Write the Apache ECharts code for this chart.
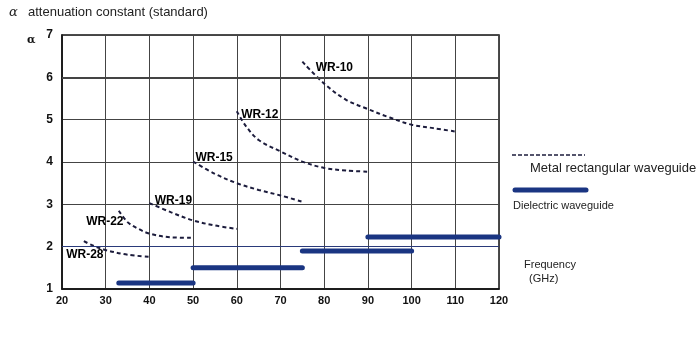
<!DOCTYPE html>
<html><head><meta charset="utf-8">
<script src="https://cdn.jsdelivr.net/npm/echarts@6/dist/echarts.min.js"></script>
<style>html,body{margin:0;padding:0;background:#fff}#c{width:700px;height:360px}</style>
</head><body><div id="c"></div>
<script>
// Frequency (GHz) vs attenuation constant
const xTicks = [20, 120, 10];
const yTicks = [1, 7, 1];
const wr28 = [[25, 2.13], [27, 2.03], [30, 1.92], [35, 1.81], [40, 1.76]];
const wr22 = [[33, 2.85], [35, 2.58], [37.5, 2.42], [40, 2.31], [45, 2.22], [50, 2.21]];
const wr19 = [[40, 3.03], [45, 2.81], [50, 2.62], [55, 2.50], [60, 2.42]];
const wr15 = [[50, 4.01], [55, 3.72], [60, 3.50], [65, 3.34], [70, 3.21], [75, 3.06]];
const wr12 = [[60, 5.20], [62, 4.86], [65, 4.52], [70, 4.25], [75, 4.01], [80, 3.86], [85, 3.80], [90, 3.77]];
const wr10 = [[75, 6.37], [80, 5.85], [85, 5.47], [90, 5.25], [95, 5.05], [100, 4.88], [105, 4.80], [110, 4.72]];
const curveNames = ['WR-28', 'WR-22', 'WR-19', 'WR-15', 'WR-12', 'WR-10'];
const dielectric1 = [[33, 1.14], [50, 1.14]];
const dielectric2 = [[50, 1.50], [75, 1.50]];
const dielectric3 = [[75, 1.90], [100, 1.90]];
const dielectric4 = [[90, 2.23], [120, 2.23]];
const refLines = [6, 2];

const curves = [wr28, wr22, wr19, wr15, wr12, wr10];
const labelOffsets = [[1, 14], [-14, 11], [24, -2], [21, -4], [23, 3], [32, 6]];
const dashColor = '#1c1c3c';
const barColor = '#1a3582';
const lblFont = {fontFamily: 'Liberation Sans', fontWeight: 'bold', fontSize: 12, color: '#000', opacity: 1};

const series = [];
curves.forEach((d, i) => {
  series.push({
    type: 'line', data: d, smooth: 0.35, symbol: 'none', silent: true,
    lineStyle: {color: dashColor, width: 2, type: [4, 3]}
  });
});
[dielectric1, dielectric2, dielectric3, dielectric4].forEach(d => {
  series.push({
    type: 'line', data: d, symbol: 'none', silent: true,
    lineStyle: {color: barColor, width: 5, cap: 'round'}
  });
});
series.push({
  type: 'scatter', symbolSize: 1, itemStyle: {color: 'rgba(0,0,0,0)', opacity: 1}, silent: true, z: 5,
  data: curves.map((d, i) => ({
    value: [d[0][0], d[0][1]],
    label: {show: true, formatter: curveNames[i], position: 'inside',
      offset: labelOffsets[i], ...lblFont}
  }))
});
series.push({
  type: 'line', data: [], silent: true,
  markLine: {
    symbol: 'none', silent: true, label: {show: false},
    data: [
      {yAxis: refLines[0], lineStyle: {color: '#444', width: 2, type: 'solid'}},
      {yAxis: refLines[1], lineStyle: {color: '#2a3a7a', width: 1, type: 'solid'}}
    ]
  }
});

const chart = echarts.init(document.getElementById('c'), null, {renderer: 'canvas'});
chart.setOption({
  animation: false,
  grid: {left: 62, right: 201, top: 35, bottom: 71, show: true, borderColor: '#111', borderWidth: 1.5},
  xAxis: {
    type: 'value', min: xTicks[0], max: xTicks[1], interval: xTicks[2],
    axisLine: {show: true, lineStyle: {color: '#111', width: 1.5}},
    axisTick: {show: false},
    splitLine: {show: true, lineStyle: {color: '#444', width: 1}},
    axisLabel: {margin: 6, fontFamily: 'Liberation Sans', fontWeight: 'bold', fontSize: 11, color: '#111'}
  },
  yAxis: {
    type: 'value', min: yTicks[0], max: yTicks[1], interval: yTicks[2],
    axisLine: {show: true, lineStyle: {color: '#111', width: 1.5}},
    axisTick: {show: false},
    splitLine: {show: true, lineStyle: {color: '#444', width: 1}},
    axisLabel: {margin: 9, fontFamily: 'Liberation Sans', fontWeight: 'bold', fontSize: 12, color: '#111'}
  },
  graphic: [
    {type: 'text', left: 9, top: 6, style: {text: 'α', font: 'italic 13px "DejaVu Serif"', fill: '#222'}},
    {type: 'text', left: 28, top: 6, style: {text: 'attenuation constant (standard)', font: '13px "Liberation Sans"', fill: '#222'}},
    {type: 'text', left: 27, top: 35, style: {text: 'α', font: 'bold 11px "DejaVu Serif"', fill: '#111'}},
    {type: 'text', left: 524, top: 259, style: {text: 'Frequency', font: '11px "Liberation Sans"', fill: '#222'}},
    {type: 'text', left: 529, top: 273, style: {text: '(GHz)', font: '11px "Liberation Sans"', fill: '#222'}},
    {type: 'line', shape: {x1: 512, y1: 155, x2: 585, y2: 155}, style: {stroke: dashColor, lineWidth: 1.5, lineDash: [4, 2]}},
    {type: 'text', left: 530, top: 162, style: {text: 'Metal rectangular waveguide', font: '13px "Liberation Sans"', fill: '#222'}},
    {type: 'line', shape: {x1: 515, y1: 190, x2: 586, y2: 190}, style: {stroke: barColor, lineWidth: 5, lineCap: 'round'}},
    {type: 'text', left: 513, top: 200, style: {text: 'Dielectric waveguide', font: '11px "Liberation Sans"', fill: '#222'}}
  ],
  series: series
});
</script></body></html>
